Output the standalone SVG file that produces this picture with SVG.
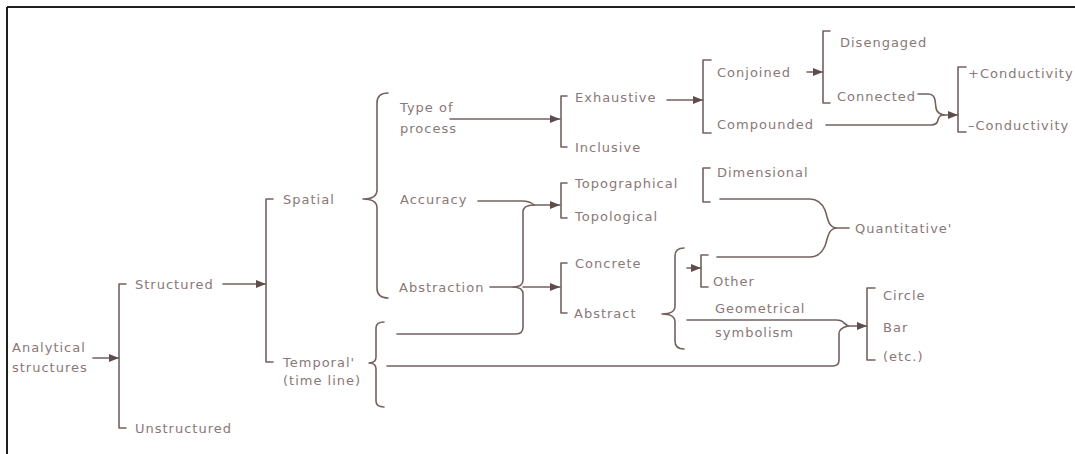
<svg xmlns="http://www.w3.org/2000/svg" width="1075" height="454" viewBox="0 0 1075 454">
  <defs>
    <style>
      .lbl { font-family: "DejaVu Sans", "Liberation Sans", sans-serif; font-size: 13px; letter-spacing: 1px; fill: #8a7878; }
      .ln { fill: none; stroke: #74625f; stroke-width: 1.6; stroke-linecap: round; stroke-linejoin: round; }
      .arr { marker-end: url(#ah); }
      .frame { stroke: #1e1e1e; stroke-width: 2; }
    </style>
    <marker id="ah" markerUnits="userSpaceOnUse" markerWidth="11" markerHeight="8" refX="10" refY="4" orient="auto">
      <path d="M0,0 L10,4 L0,8 z" fill="#5e4d4b"/>
    </marker>
  </defs>

  <rect x="0" y="0" width="1075" height="454" fill="#ffffff"/>
  <!-- frame: top and left rules -->
  <line class="frame" x1="7" y1="7" x2="1075" y2="7"/>
  <line class="frame" x1="7" y1="7" x2="7" y2="454"/>

  <!-- connectors, brackets and braces -->
  <g id="connectors">
    <!-- Analytical structures -> Structured / Unstructured -->
    <line class="ln arr" x1="93" y1="358" x2="119" y2="358"/>
    <path class="ln" d="M126 284 L119 284 L119 428 L126 428"/>
    <!-- Structured -> Spatial / Temporal -->
    <line class="ln arr" x1="223" y1="284" x2="266" y2="284"/>
    <path class="ln" d="M273 199 L266 199 L266 362 L273 362"/>
    <!-- Spatial brace -->
    <path class="ln" d="M388 93 Q377 93 377 103 L377 190 Q377 199 363 199 Q377 199 377 208 L377 288 Q377 298 388 298"/>
    <!-- Temporal brace -->
    <path class="ln" d="M384 322 Q376 322 376 328 L376 357 Q376 363 369 363 Q376 363 376 369 L376 401 Q376 407 384 407"/>

    <!-- Type of process -> Exhaustive / Inclusive -->
    <line class="ln arr" x1="450" y1="119" x2="560" y2="119"/>
    <path class="ln" d="M567 96 L561 96 L561 147 L567 147"/>
    <!-- Exhaustive -> Conjoined / Compounded -->
    <line class="ln arr" x1="667" y1="100" x2="703" y2="100"/>
    <path class="ln" d="M711 60 L703 60 L703 133 L711 133"/>
    <!-- Conjoined -> Disengaged / Connected -->
    <line class="ln arr" x1="807" y1="72" x2="823" y2="72"/>
    <path class="ln" d="M830 31 L823 31 L823 103 L830 103"/>
    <!-- Connected + Compounded -> Conductivity -->
    <path class="ln" d="M918 94 L928 94 Q934 94 935 100 L936 108 Q937 114 944 115"/>
    <path class="ln" d="M826 125 L931 125 Q937 125 938 120 Q939 115 944 115"/>
    <line class="ln arr" x1="944" y1="115" x2="958" y2="115"/>
    <path class="ln" d="M966 67 L958 67 L958 132 L966 132"/>

    <!-- Accuracy + Temporal -> Topographical / Topological -->
    <path class="ln" d="M478 201 L522 201 Q530 201 534 205"/>
    <path class="ln" d="M397 334 L516 334 Q523 334 523 327 L523 294 Q523 287 513 287 Q523 287 523 280 L523 212 Q523 205 534 205"/>
    <line class="ln arr" x1="534" y1="205" x2="560" y2="205"/>
    <path class="ln" d="M567 183 L561 183 L561 218 L567 218"/>
    <!-- Abstraction -> Concrete / Abstract -->
    <line class="ln" x1="490" y1="287" x2="513" y2="287"/>
    <line class="ln arr" x1="523" y1="287" x2="560" y2="287"/>
    <path class="ln" d="M567 263 L561 263 L561 313 L567 313"/>

    <!-- Abstract brace -->
    <path class="ln" d="M684 248 Q675 248 675 256 L675 306 Q675 314 662 314 Q675 314 675 322 L675 341 Q675 349 684 349"/>
    <!-- Other bracket -->
    <line class="ln arr" x1="687" y1="268" x2="701" y2="268"/>
    <path class="ln" d="M708 255 L701 255 L701 287 L708 287"/>
    <!-- Dimensional bracket -->
    <path class="ln" d="M710 168 L703 168 L703 202 L710 202"/>
    <!-- Dimensional + Other -> Quantitative -->
    <path class="ln" d="M720 199 L810 199 Q820 199 825 210 L828 220 Q830 227 836 228 L849 228"/>
    <path class="ln" d="M717 257 L810 257 Q820 257 825 246 L828 236 Q830 229 836 228"/>

    <!-- Geometrical symbolism + Temporal -> Circle / Bar / (etc.) -->
    <path class="ln" d="M687 320 L836 320 Q842 320 844 323 L848 326"/>
    <path class="ln" d="M387 366 L833 366 Q839 366 839 360 L839 334 Q839 328 848 326"/>
    <line class="ln arr" x1="848" y1="326" x2="867" y2="326"/>
    <path class="ln" d="M875 288 L867 288 L867 360 L875 360"/>
  </g>

  <!-- nodes -->
  <g id="n-analytical"><text class="lbl" x="12" y="352">Analytical</text><text class="lbl" x="12" y="372">structures</text></g>
  <g id="n-structured"><text class="lbl" x="135" y="289">Structured</text></g>
  <g id="n-unstructured"><text class="lbl" x="135" y="433">Unstructured</text></g>
  <g id="n-spatial"><text class="lbl" x="283" y="204">Spatial</text></g>
  <g id="n-temporal"><text class="lbl" x="283" y="367">Temporal'</text><text class="lbl" x="283" y="385">(time line)</text></g>
  <g id="n-type"><text class="lbl" x="400" y="112">Type of</text><text class="lbl" x="400" y="133">process</text></g>
  <g id="n-accuracy"><text class="lbl" x="400" y="204">Accuracy</text></g>
  <g id="n-abstraction"><text class="lbl" x="399" y="292">Abstraction</text></g>
  <g id="n-exhaustive"><text class="lbl" x="575" y="102">Exhaustive</text></g>
  <g id="n-inclusive"><text class="lbl" x="575" y="152">Inclusive</text></g>
  <g id="n-conjoined"><text class="lbl" x="717" y="77">Conjoined</text></g>
  <g id="n-compounded"><text class="lbl" x="717" y="129">Compounded</text></g>
  <g id="n-disengaged"><text class="lbl" x="840" y="47">Disengaged</text></g>
  <g id="n-connected"><text class="lbl" x="837" y="101">Connected</text></g>
  <g id="n-pluscond"><text class="lbl" x="968" y="78">+Conductivity</text></g>
  <g id="n-minuscond"><text class="lbl" x="968" y="130">–Conductivity</text></g>
  <g id="n-topographical"><text class="lbl" x="575" y="188">Topographical</text></g>
  <g id="n-topological"><text class="lbl" x="575" y="221">Topological</text></g>
  <g id="n-dimensional"><text class="lbl" x="717" y="177">Dimensional</text></g>
  <g id="n-quantitative"><text class="lbl" x="855" y="233">Quantitative'</text></g>
  <g id="n-concrete"><text class="lbl" x="575" y="268">Concrete</text></g>
  <g id="n-abstract"><text class="lbl" x="574" y="318">Abstract</text></g>
  <g id="n-other"><text class="lbl" x="713" y="286">Other</text></g>
  <g id="n-geometrical"><text class="lbl" x="715" y="313">Geometrical</text><text class="lbl" x="715" y="337">symbolism</text></g>
  <g id="n-circle"><text class="lbl" x="883" y="300">Circle</text></g>
  <g id="n-bar"><text class="lbl" x="883" y="332">Bar</text></g>
  <g id="n-etc"><text class="lbl" x="883" y="361">(etc.)</text></g>
</svg>
